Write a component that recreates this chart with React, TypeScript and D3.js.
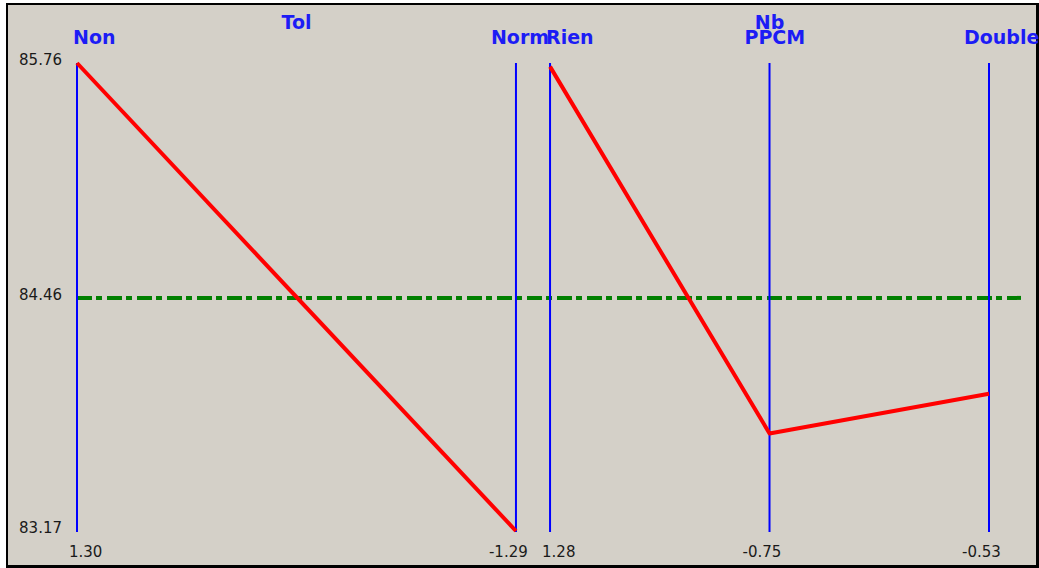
import React from "react";
import * as d3 from "d3";

// ---- data ----
const groups = ["Tol", "Nb"];
const groupCategories: string[][] = [
  ["Non", "Norm"],
  ["Rien", "PPCM", "Double"],
];
const meanValue = 84.46;
const deviations: number[][] = [
  [1.3, -1.29],
  [1.28, -0.75, -0.53],
];
const yTicks = [83.17, 84.46, 85.76];

const W = 1039;
const H = 568;

export default function App() {
  const band = d3
    .scaleBand<string>()
    .domain(groups)
    .range([77, 77 + 472 + 440])
    .paddingInner(34 / 472)
    .paddingOuter(0);

  const y = d3
    .scaleLinear()
    .domain([d3.min(yTicks)!, d3.max(yTicks)!])
    .range([531, 63]);

  const axes = groups.flatMap((g, gi) => {
    const cats = groupCategories[gi];
    const px = d3
      .scalePoint<string>()
      .domain(cats)
      .range([band(g)!, band(g)! + band.bandwidth()]);
    return cats.map((c, i) => ({
      group: g,
      gi,
      cat: c,
      first: i === 0,
      x: px(c)!,
      dev: deviations[gi][i],
      value: meanValue + deviations[gi][i],
    }));
  });

  const line = d3
    .line<{ x: number; value: number }>()
    .x((d) => d.x)
    .y((d) => y(d.value));

  const firstX = axes[0].x;
  const lastX = axes[axes.length - 1].x;

  const numFont = "'DejaVu Sans', Verdana, sans-serif";
  const blue = "#1c1cf5";

  return (
    <svg
      width={W}
      height={H}
      style={{ position: "absolute", left: 0, top: 0, background: "#ffffff" }}
    >
      <rect x={6} y={3} width={W - 6} height={H - 3} fill="#000" />
      <rect x={8} y={5} width={W - 6 - 5} height={H - 3 - 5} fill="#d4d0c8" />

      {/* mean line */}
      <line
        x1={firstX}
        x2={lastX + 32}
        y1={y(meanValue)}
        y2={y(meanValue)}
        stroke="#008000"
        strokeWidth={4}
        strokeDasharray="15,4,6,5"
      />

      {/* axes */}
      {axes.map((a) => (
        <line
          key={a.cat}
          x1={a.x}
          x2={a.x}
          y1={y.range()[1]}
          y2={y.range()[0] + 1}
          stroke="#0000ff"
          strokeWidth={2}
        />
      ))}

      {/* profiles */}
      {groups.map((g, gi) => (
        <path
          key={g}
          d={line(axes.filter((a) => a.gi === gi))!}
          fill="none"
          stroke="#ff0000"
          strokeWidth={4}
          strokeLinejoin="round"
        />
      ))}

      {/* y tick labels */}
      {yTicks.map((t) => (
        <text
          key={t}
          x={62}
          y={y(t) + 2}
          textAnchor="end"
          fontFamily={numFont}
          fontSize={15}
          fill="#1a1a1a"
        >
          {t.toFixed(2)}
        </text>
      ))}

      {/* deviation labels */}
      {axes.map((a) => (
        <text
          key={"d" + a.cat}
          x={a.x - (a.dev < 0 ? 27 : 8)}
          y={557}
          textAnchor="start"
          fontFamily={numFont}
          fontSize={15}
          fill="#1a1a1a"
        >
          {a.dev.toFixed(2)}
        </text>
      ))}

      {/* category labels */}
      {axes.map((a) => (
        <text
          key={"c" + a.cat}
          x={a.x - (a.first ? 4 : 25)}
          y={44}
          textAnchor="start"
          fontFamily={numFont}
          fontWeight="bold"
          fontSize={19}
          fill={blue}
        >
          {a.cat}
        </text>
      ))}

      {/* group labels */}
      {groups.map((g) => (
        <text
          key={"g" + g}
          x={band(g)! + band.bandwidth() / 2}
          y={29}
          textAnchor="middle"
          fontFamily={numFont}
          fontWeight="bold"
          fontSize={19}
          fill={blue}
        >
          {g}
        </text>
      ))}
    </svg>
  );
}
